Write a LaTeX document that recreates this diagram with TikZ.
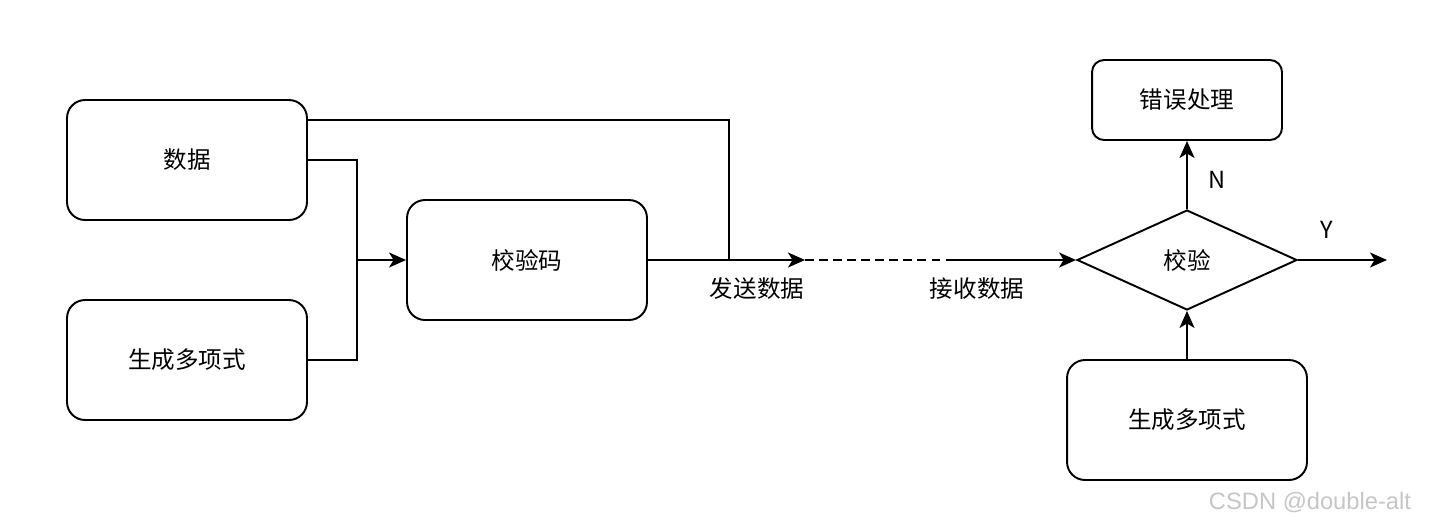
\documentclass[tikz,border=0pt]{standalone}
\usepackage{fontspec}
\setmainfont{Noto Sans CJK SC}
\newfontfamily\markfont{Liberation Sans}
\usetikzlibrary{shapes.geometric, arrows.meta}

\begin{document}
\begin{tikzpicture}[x=0.02cm, y=-0.02cm, line width=1.1pt,
        every node/.style={font=\fontsize{13.4}{16}\selectfont},
        block/.style={draw, rounded corners=0.36cm, minimum width=4.8cm, minimum height=2.4cm},
        arr/.style={-{Stealth[length=0.34cm, width=0.3cm, inset=0.09cm]}}]
        \useasboundingbox (0, 0) rectangle (1429, 529);

        % Sender side
        \node[block] (data) at (187, 160) {数据};
        \node[block] (poly1) at (187, 360) {生成多项式};
        \node[block] (code) at (527, 260) {校验码};
        \coordinate (join) at (357, 260);
        \coordinate (merge) at (729, 260);
        \coordinate (tx) at (805, 260);

        \draw ([yshift=0.8cm]data.east) -| (merge);
        \draw (data.east) -| (join);
        \draw (poly1.east) -| (join);
        \draw[arr] (join) -- (code);
        \draw[arr] (code) -- (tx);
        \node (send) at (757, 289) {发送数据};

        % Channel
        \coordinate (rx) at (967, 260);
        \draw[dash pattern=on 5pt off 3pt] (tx) -- (rx);
        \node (recv) at (977, 289) {接收数据};

        % Receiver side
        \node[draw, diamond, minimum width=4.4cm, minimum height=2cm, inner sep=0pt] (check) at (1187, 260) {校验};
        \node[draw, rounded corners=0.24cm, minimum width=3.8cm, minimum height=1.6cm] (error) at (1187, 100) {错误处理};
        \node[block] (poly2) at (1187, 420) {生成多项式};
        \coordinate (out) at (1387, 260);

        \draw[arr] ([xshift=-0.38cm]rx) -- (check);
        \draw[arr] (check) -- (error);
        \node (no) at (1217, 180) {N};
        \draw[arr] (check.east) -- (out);
        \node (yes) at (1327, 230) {Y};
        \draw[arr] (poly2) -- (check);

        % Watermark
        \node[text=gray!45, font=\markfont\fontsize{13.5}{16}\selectfont] (mark) at (1310, 503) {CSDN @double-alt};
\end{tikzpicture}
\end{document}
